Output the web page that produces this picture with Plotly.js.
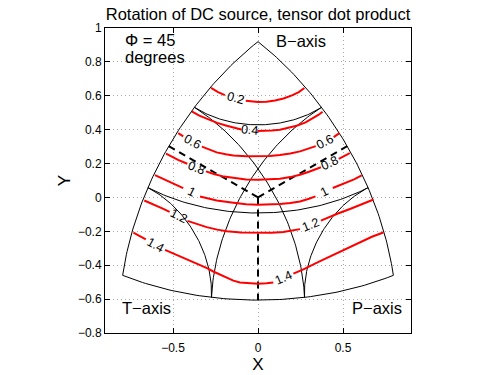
<!DOCTYPE html>
<html><head><meta charset="utf-8">
<script src="https://cdn.plot.ly/plotly-3.0.1.min.js"></script>
<style>html,body{margin:0;padding:0;background:#fff}</style>
</head><body><div id="chart" style="width:498px;height:375px"></div>
<script>
// ---- data ----
const levels = [0.2, 0.4, 0.6, 0.8, 1, 1.2, 1.4];
const c02x = [-0.276,-0.235,-0.195,null,-0.072,-0.035,0,0.05,0.10,0.15,0.20,0.24,0.273];
const c02y = [0.646,0.622,0.604,null,0.570,0.565,0.563,0.565,0.572,0.584,0.602,0.622,0.646];
const c04x = [-0.39,-0.345,-0.302,-0.24,-0.184,-0.135,-0.098,null,-0.004,0.031,0.08,0.129,0.18,0.227,0.28,0.325,0.355,0.38];
const c04y = [0.508,0.483,0.465,0.440,0.423,0.410,0.401,null,0.392,0.392,0.395,0.400,0.410,0.423,0.443,0.469,0.487,0.506];
const c06x = [-0.469,-0.44,null,-0.33,-0.285,-0.243,-0.19,-0.145,-0.07,0,0.07,0.129,0.19,0.247,0.29,0.34,null,0.445,0.479];
const c06y = [0.380,0.360,null,0.300,0.282,0.266,0.255,0.248,0.243,0.242,0.244,0.250,0.259,0.272,0.285,0.303,null,0.356,0.380];
const c08x = [-0.541,-0.51,-0.47,-0.416,null,-0.306,-0.26,-0.2,-0.145,-0.07,0,0.07,0.129,0.19,0.247,0.30,0.37,null,0.475,0.505,0.54];
const c08y = [0.258,0.242,0.222,0.199,null,0.154,0.138,0.123,0.114,0.106,0.104,0.106,0.110,0.120,0.134,0.152,0.178,null,0.228,0.242,0.262];
const c10x = [-0.606,-0.57,-0.537,-0.49,-0.44,null,-0.341,-0.29,-0.243,-0.145,-0.07,0,0.07,0.129,0.19,0.247,0.30,0.338,null,0.44,0.48,0.522,0.565,0.61];
const c10y = [0.132,0.115,0.100,0.078,0.055,null,0.006,-0.008,-0.018,-0.031,-0.040,-0.043,-0.042,-0.039,-0.033,-0.024,-0.008,0.006,null,0.056,0.071,0.087,0.107,0.130];
const c12x = [-0.669,-0.63,-0.596,-0.56,-0.52,null,-0.415,-0.36,-0.302,-0.24,-0.184,-0.1,0,0.08,0.149,0.2,0.247,null,0.37,0.404,0.47,0.541,0.61,0.68];
const c12y = [-0.018,-0.034,-0.049,-0.066,-0.085,null,-0.138,-0.158,-0.175,-0.190,-0.200,-0.207,-0.210,-0.208,-0.204,-0.197,-0.187,null,-0.137,-0.122,-0.095,-0.068,-0.041,-0.012];
const c14x = [-0.733,-0.70,-0.66,null,-0.547,-0.49,-0.439,-0.39,-0.341,-0.30,-0.263,-0.22,-0.184,-0.145,-0.106,-0.05,0,0.05,0.09,null,0.208,0.267,0.35,0.443,0.52,0.60,0.67,0.737];
const c14y = [-0.207,-0.226,-0.247,null,-0.309,-0.334,-0.358,-0.378,-0.397,-0.417,-0.437,-0.458,-0.476,-0.491,-0.502,-0.508,-0.509,-0.507,-0.502,null,-0.450,-0.425,-0.383,-0.339,-0.300,-0.262,-0.232,-0.207];
const contourX = [c02x, c04x, c06x, c08x, c10x, c12x, c14x];
const contourY = [c02y, c04y, c06y, c08y, c10y, c12y, c14y];

const plungeLevels = [30, 60];          // degrees, small circles for each axis
const axisNames = ['T', 'B', 'P'];
const cornerText = ['T\u2212axis', 'B\u2212axis', 'P\u2212axis'];
const phiValue = 45;
const xTicks = [-0.5, 0, 0.5];
const yTicks = [-0.8, -0.6, -0.4, -0.2, 0, 0.2, 0.4, 0.6, 0.8, 1];

// ---- layout geometry ----
const W = 498, H = 375;
const M = {l: 105, r: 87, t: 28, b: 42};
const xRange = [-0.9, 0.9], yRange = [-0.8, 1];
const sx = (W - M.l - M.r) / (xRange[1] - xRange[0]);
const sy = (H - M.t - M.b) / (yRange[1] - yRange[0]);

// Lambert equal-area projection of a unit vector (t,b,p) centred on (1,1,1)/sqrt3
function proj(t, b, p) {
  const c = (t + b + p) / Math.sqrt(3);
  const ex = (p - t) / Math.SQRT2;
  const ey = (2 * b - t - p) / Math.sqrt(6);
  const n = Math.hypot(ex, ey);
  const r = Math.sqrt(Math.max(0, 2 * (1 - c)));
  if (n < 1e-12) return [0, 0];
  return [r * ex / n, r * ey / n];
}
function vec(axisIdx, main, q1, q2) {
  const v = [0, 0, 0];
  v[axisIdx] = main;
  const others = [0, 1, 2].filter(i => i !== axisIdx);
  v[others[0]] = q1; v[others[1]] = q2;
  return v;
}
function curve(axisIdx, plungeDeg) {
  const d = plungeDeg * Math.PI / 180;
  const s = Math.sin(d), q = Math.cos(d);
  const xs = [], ys = [];
  const N = 90;
  for (let i = 0; i <= N; i++) {
    const f = (i / N) * Math.PI / 2;
    const v = vec(axisIdx, s, q * Math.cos(f), q * Math.sin(f));
    const pt = proj(v[0], v[1], v[2]);
    xs.push(pt[0]); ys.push(pt[1]);
  }
  return {xs, ys};
}

const traces = [];
const thin = {color: '#000', width: 1};
axisNames.forEach((nm, i) => {
  const c = curve(i, 0);
  traces.push({x: c.xs, y: c.ys, mode: 'lines', line: thin, hoverinfo: 'skip', showlegend: false});
});
axisNames.forEach((nm, i) => {
  plungeLevels.forEach(pl => {
    const c = curve(i, pl);
    traces.push({x: c.xs, y: c.ys, mode: 'lines', line: thin, hoverinfo: 'skip', showlegend: false});
  });
});
axisNames.forEach((nm, i) => {
  const v = vec(i, 0, Math.SQRT1_2, Math.SQRT1_2);
  const m = proj(v[0], v[1], v[2]);
  traces.push({x: [0, m[0]], y: [0, m[1]], mode: 'lines',
    line: {color: '#000', width: 2, dash: '7px,5px'}, hoverinfo: 'skip', showlegend: false});
});
const annotations = [];
levels.forEach((lv, k) => {
  const xs = contourX[k], ys = contourY[k];
  traces.push({x: xs, y: ys, mode: 'lines', connectgaps: false,
    line: {color: '#ff0000', width: 2}, hoverinfo: 'skip', showlegend: false});
  for (let i = 1; i < xs.length - 1; i++) {
    if (xs[i] === null) {
      const x0 = xs[i - 1], y0 = ys[i - 1], x1 = xs[i + 1], y1 = ys[i + 1];
      const ang = -Math.atan2((y1 - y0) * sy, (x1 - x0) * sx) * 180 / Math.PI;
      annotations.push({x: (x0 + x1) / 2, y: (y0 + y1) / 2, xref: 'x', yref: 'y',
        text: String(lv), showarrow: false, textangle: ang,
        xanchor: 'center', yanchor: 'middle', font: {size: 12.5, color: '#000'}});
    }
  }
});

const cornerPos = [[-0.653, -0.654], [0.25, 0.925], [0.698, -0.654]];
cornerText.forEach((t, i) => {
  annotations.push({x: cornerPos[i][0], y: cornerPos[i][1], xref: 'x', yref: 'y', text: t,
    showarrow: false, xanchor: 'center', yanchor: 'middle', font: {size: 16.5, color: '#000'}});
});
annotations.push({x: -0.796, y: 0.930, xref: 'x', yref: 'y', text: '\u03A6 = ' + phiValue,
  showarrow: false, xanchor: 'left', yanchor: 'middle', font: {size: 16.5, color: '#000'}});
annotations.push({x: -0.796, y: 0.831, xref: 'x', yref: 'y', text: 'degrees',
  showarrow: false, xanchor: 'left', yanchor: 'middle', font: {size: 16.5, color: '#000'}});

const axisCommon = {
  showline: true, linecolor: '#000', linewidth: 1, mirror: 'ticks',
  ticks: 'inside', ticklen: 5, tickcolor: '#000', tickwidth: 1,
  showgrid: true, gridcolor: '#a8a8a8', griddash: '1px,3px', gridwidth: 1,
  zeroline: false, tickfont: {size: 12, color: '#000'}, fixedrange: true
};
const fmt = v => v === 0 ? '0' : (v < 0 ? '\u2212' : '') + Math.abs(v);
const layout = {
  width: W, height: H, margin: M,
  paper_bgcolor: '#fff', plot_bgcolor: '#fff',
  font: {family: '"Liberation Sans", Arial, Helvetica, sans-serif', color: '#000'},
  title: {text: 'Rotation of DC source, tensor dot product', font: {size: 16.5, color: '#000'},
    x: 0.5, xref: 'paper', xanchor: 'center', y: 0.962, yref: 'container', yanchor: 'middle'},
  xaxis: Object.assign({}, axisCommon, {range: xRange, tickvals: xTicks, ticktext: xTicks.map(fmt),
    ticklabelstandoff: 4, title: {text: 'X', font: {size: 17}, standoff: 1}}),
  yaxis: Object.assign({}, axisCommon, {range: yRange, tickvals: yTicks, ticktext: yTicks.map(fmt),
    title: {text: 'Y', font: {size: 17}, standoff: 2}}),
  annotations: annotations,
  hovermode: false, showlegend: false
};
Plotly.newPlot('chart', traces, layout, {displayModeBar: false, staticPlot: true});
</script></body></html>
